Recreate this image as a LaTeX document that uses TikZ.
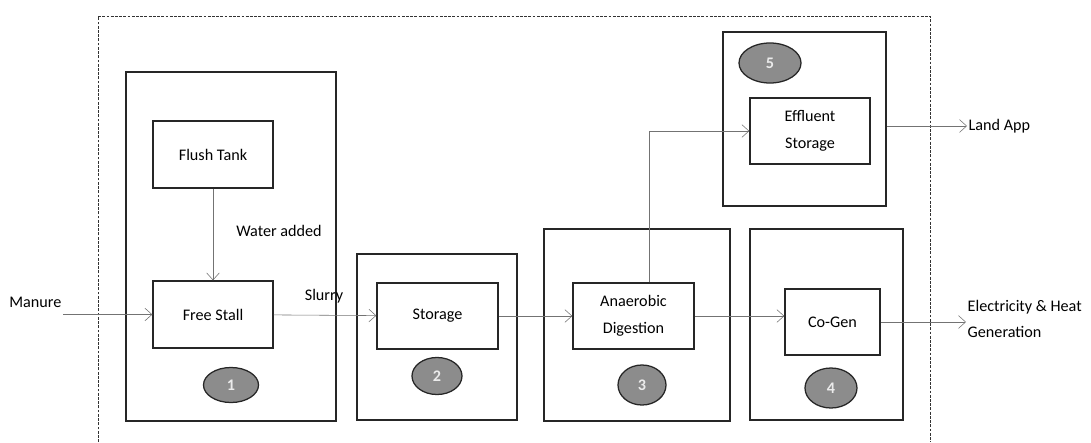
\documentclass[tikz,border=0pt]{standalone}
\usepackage{fontspec}
\setmainfont{Carlito}
\usetikzlibrary{positioning}
\usetikzlibrary{shapes.geometric}
\usetikzlibrary{arrows.meta}
\tikzset{
semithick, % all lines semithick
>={Straight Barb[length=5pt,width=9pt]}, % open arrow heads
my text/.style={font=\fontsize{11.5}{19}\selectfont,inner sep=1pt},
my group/.style={draw=black!85,line width=0.9pt,rectangle,inner sep=0pt},
my box/.style={draw=black!85,line width=0.9pt,rectangle,inner sep=0pt,my text,align=center},
my oval/.style={draw=black!85,line width=0.9pt,ellipse,fill=black!45,text=black!8,
  inner sep=0pt,minimum width=1.3cm,minimum height=0.95cm,font=\bfseries\fontsize{11.5}{13}\selectfont},
flow/.style={->,draw=black!55,thin},
frame/.style={draw=black!80,thin,dash pattern=on 2pt off 1pt}
}
\begin{document}
\begin{tikzpicture}[x=0.025cm,y=-0.025cm]
\useasboundingbox (0,0) rectangle (1091,442);
% outer frame, open at the bottom
\draw[frame] (98,442) |- (930,16) -- (930,442);
% stage 1
\node[my group,minimum width=5.25cm,minimum height=8.725cm] (g1) at (231,246.5) {};
\node[my box,minimum width=3cm,minimum height=1.675cm] (flush) at (213,154.5) {Flush Tank};
\node[my box,minimum width=3cm,minimum height=1.675cm] (stall) at (213,314.5) {Free Stall};
\node[my oval,minimum width=1.375cm,minimum height=0.875cm] (o1) at (231,385) {1};
% stage 2
\node[my group,minimum width=4cm,minimum height=4.15cm] (g2) at (437,337) {};
\node[my box,minimum width=3.025cm,minimum height=1.65cm] (store) at (437.5,316) {Storage};
\node[my oval,minimum width=1.25cm,minimum height=0.925cm] (o2) at (437,376) {2};
% stage 3
\node[my group,minimum width=4.65cm,minimum height=4.8cm] (g3) at (637,325) {};
\node[my box,minimum width=3.025cm,minimum height=1.65cm] (digest) at (633.5,316) {Anaerobic\\Digestion};
\node[my oval,minimum width=1.2cm,minimum height=1cm] (o3) at (642,385) {3};
% stage 4
\node[my group,minimum width=3.825cm,minimum height=4.775cm] (g4) at (826.5,324.5) {};
\node[my box,minimum width=2.375cm,minimum height=1.65cm] (cogen) at (832.5,322) {Co-Gen};
\node[my oval,minimum width=1.3cm,minimum height=1cm] (o4) at (831,388) {4};
% stage 5
\node[my group,minimum width=4.075cm,minimum height=4.35cm] (g5) at (804.5,119) {};
\node[my box,minimum width=3cm,minimum height=1.65cm] (effl) at (810,131) {Effluent\\Storage};
\node[my oval,minimum width=1.55cm,minimum height=1cm] (o5) at (770,63) {5};
% labels
\node[my text,anchor=east] (manure) at (63,302) {Manure};
\node[my text] (water) at (279,231) {Water added};
\node[my text] (slurry) at (324,296) {Slurry};
\node[my text,anchor=west] (land) at (967,126) {Land App};
\node[my text,anchor=west,align=left] (power) at (966,319) {Electricity \& Heat\\Generation};
% flows
\draw[flow] (manure.east |- stall.west) -- (stall.west);
\draw[flow] (flush) -- (stall);
\draw[flow] (stall) -- (store);
\draw[flow] (store) -- (digest);
\draw[flow] ([xshift=0.39cm]digest.north) |- (effl.west);
\draw[flow] (digest.east) -- (digest.east -| cogen.west);
\draw[flow] (g5.east |- land.west) -- (land.west);
\draw[flow] (cogen.east) -- (cogen.east -| power.west);
\end{tikzpicture}
\end{document}
